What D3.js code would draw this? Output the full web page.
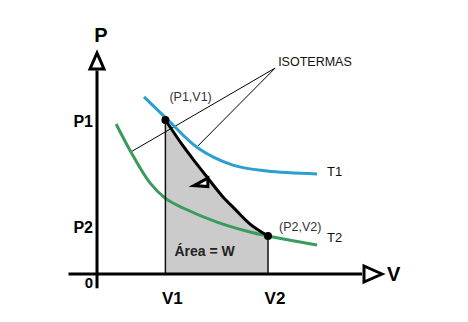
<!DOCTYPE html>
<html>
<head>
<meta charset="utf-8">
<script src="https://cdn.jsdelivr.net/npm/d3@7"></script>
<style>
  body { margin: 0; background: #fff; }
  text { font-family: "Liberation Sans", Arial, sans-serif; }
</style>
</head>
<body>
<svg id="chart" width="468" height="322"></svg>
<script>
/* DATA (V, P), ARBITRARY UNITS */
var V1 = 2.4, V2 = 6.0, P1 = 7.0, P2 = 1.73;
var vTicks = [V1, V2], vTickLabels = ["V1", "V2"];
var pTicks = [P1, P2], pTickLabels = ["P1", "P2"];

var isoT1 = [[1.65, 8.05], [2.49, 7.0], [3.54, 5.73], [4.77, 4.95], [5.96, 4.68], [7.72, 4.55]];
var isoT2 = [[0.67, 6.82], [1.19, 5.55], [1.86, 4.14], [2.39, 3.45], [3.02, 3.0], [4.21, 2.36],
             [5.37, 1.91], [6.0, 1.73], [7.72, 1.32]];
var adiabat = [[V1, P1], [3.02, 5.82], [3.47, 5.05], [3.89, 4.36], [4.39, 3.55], [4.84, 2.95],
               [5.37, 2.27], [V2, P2]];

var states = [[V1, P1, "(P1,V1)"], [V2, P2, "(P2,V2)"]];
var curveNames = ["T1", "T2"];
var leaderFrom = [6.25, 9.36];
var leaderTo = [[1.19, 5.55], [3.54, 5.82]];
var arrowAt = [3.89, 4.36];

var svg = d3.select("#chart");

/* SCALES: ORIGIN AT (97, 274) */
var x = d3.scaleLinear().domain([0, 10]).range([97, 382]);
var y = d3.scaleLinear().domain([0, 10]).range([274, 54]);

var line = d3.line().x(function(d){ return x(d[0]); }).y(function(d){ return y(d[1]); })
             .curve(d3.curveCatmullRom.alpha(0.5));

/* GRAY AREA UNDER THE ADIABAT = WORK */
var area = d3.area().x(function(d){ return x(d[0]); })
             .y0(y(0)).y1(function(d){ return y(d[1]); })
             .curve(d3.curveCatmullRom.alpha(0.5));
svg.append("path").datum(adiabat).attr("d", area).attr("fill", "#cbcbcb");

/* LEADER LINES FOR ISOTERMAS */
leaderTo.forEach(function(p){
  svg.append("line")
    .attr("x1", x(leaderFrom[0])).attr("y1", y(leaderFrom[1]))
    .attr("x2", x(p[0])).attr("y2", y(p[1]))
    .attr("stroke", "#000").attr("stroke-width", 1);
});

/* ISOTHERMS */
svg.append("path").datum(isoT2).attr("d", line).attr("fill", "none")
   .attr("stroke", "#3a9c5c").attr("stroke-width", 3);
svg.append("path").datum(isoT1).attr("d", line).attr("fill", "none")
   .attr("stroke", "#2b9fd0").attr("stroke-width", 3);

/* VERTICAL LINES AT V1, V2 */
states.forEach(function(s){
  svg.append("line")
    .attr("x1", x(s[0])).attr("x2", x(s[0]))
    .attr("y1", y(s[1])).attr("y2", y(0))
    .attr("stroke", "#111").attr("stroke-width", 1.5);
});

/* ADIABAT */
svg.append("path").datum(adiabat).attr("d", line).attr("fill", "none")
   .attr("stroke", "#000").attr("stroke-width", 3);

/* DIRECTION TRIANGLE */
var ax = x(arrowAt[0]), ay = y(arrowAt[1]);
svg.append("path")
  .attr("d", "M" + ax + "," + ay + " L" + (ax - 14) + "," + (ay + 7.5) + " L" + ax + "," + (ay + 8.5) + "Z")
  .attr("fill", "#fff").attr("stroke", "#000").attr("stroke-width", 3).attr("stroke-linejoin", "miter");

/* STATE POINTS */
svg.selectAll(".pt").data(states).enter().append("circle")
  .attr("cx", function(d){ return x(d[0]); }).attr("cy", function(d){ return y(d[1]); })
  .attr("r", 4).attr("fill", "#000");

/* AXES WITH OPEN ARROWS */
svg.append("line").attr("x1", x(-1)).attr("x2", x(9.3)).attr("y1", y(0)).attr("y2", y(0))
   .attr("stroke", "#000").attr("stroke-width", 3);
svg.append("line").attr("x1", x(0)).attr("x2", x(0)).attr("y1", y(-0.65)).attr("y2", y(9.25))
   .attr("stroke", "#000").attr("stroke-width", 3);
var xa = x(10), ya = y(0);
svg.append("path")
  .attr("d", "M" + xa + "," + ya + " L" + (xa - 18) + "," + (ya - 8) + " L" + (xa - 18) + "," + (ya + 8) + "Z")
  .attr("fill", "#fff").attr("stroke", "#000").attr("stroke-width", 3);
var xb = x(0), yb = y(10);
svg.append("path")
  .attr("d", "M" + xb + "," + (yb - 1) + " L" + (xb - 7) + "," + (yb + 15) + " L" + (xb + 7) + "," + (yb + 15) + "Z")
  .attr("fill", "#fff").attr("stroke", "#000").attr("stroke-width", 3);

/* AXIS TITLES */
svg.append("text").attr("x", x(0) + 4).attr("y", 42).attr("text-anchor", "middle")
   .attr("font-size", "20px").attr("font-weight", "bold").text("P");
svg.append("text").attr("x", x(10) + 5).attr("y", y(0) + 7).attr("text-anchor", "start")
   .attr("font-size", "20px").attr("font-weight", "bold").text("V");
svg.append("text").attr("x", x(0) - 4).attr("y", y(0) + 13.5).attr("text-anchor", "end")
   .attr("font-size", "15px").attr("font-weight", "bold").text("0");

/* TICK LABELS */
var pOff = [7, -3];
pTicks.forEach(function(p, i){
  svg.append("text").attr("x", x(0) - 4).attr("y", y(p) + pOff[i]).attr("text-anchor", "end")
     .attr("font-size", "16px").attr("font-weight", "bold").text(pTickLabels[i]);
});
vTicks.forEach(function(v, i){
  svg.append("text").attr("x", x(v) + 7).attr("y", y(0) + 30).attr("text-anchor", "middle")
     .attr("font-size", "17px").attr("font-weight", "bold").text(vTickLabels[i]);
});

/* ANNOTATIONS */
svg.append("text").attr("x", x(V1) + 4).attr("y", y(P1) - 19)
   .attr("font-size", "12.5px").attr("fill", "#333").text(states[0][2]);
svg.append("text").attr("x", x(V2) + 11).attr("y", y(P2) - 5)
   .attr("font-size", "12.5px").attr("fill", "#333").text(states[1][2]);
svg.append("text").attr("x", x(leaderFrom[0]) + 3).attr("y", y(leaderFrom[1]) - 2)
   .attr("font-size", "12.5px").attr("fill", "#111").text("ISOTERMAS");
var ends = [isoT1[isoT1.length - 1], isoT2[isoT2.length - 1]];
ends.forEach(function(e, i){
  svg.append("text").attr("x", x(e[0]) + 10).attr("y", y(e[1]) + 2 - 5 * i)
     .attr("font-size", "13px").attr("fill", "#111").text(curveNames[i]);
});
svg.append("text").attr("x", x(V1) + 9).attr("y", y(0) - 18)
   .attr("font-size", "14px").attr("font-weight", "bold").attr("fill", "#222").text("Área = W");
</script>
</body>
</html>
